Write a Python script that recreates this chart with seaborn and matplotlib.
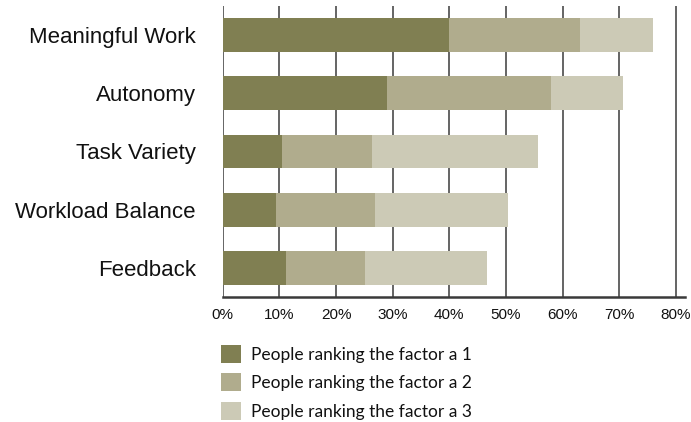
import matplotlib
matplotlib.use('Agg')
import matplotlib.pyplot as plt
import matplotlib.patches as mpatches
import numpy as np
import pandas as pd
import seaborn as sns

factors = ['Meaningful Work', 'Autonomy', 'Task Variety', 'Workload Balance', 'Feedback']
rank1 = [40.0, 29.0, 10.5, 9.4, 11.2]
rank2 = [23.0, 29.0, 15.9, 17.5, 13.9]
rank3 = [13.0, 12.6, 29.3, 23.5, 21.6]
series_labels = ['People ranking the factor a 1',
                 'People ranking the factor a 2',
                 'People ranking the factor a 3']
colors = ['#807f52', '#b0ac8d', '#cccab6']
xticks = [0, 10, 20, 30, 40, 50, 60, 70, 80]

df = pd.DataFrame({'factor': factors, 'r1': rank1, 'r2': rank2, 'r3': rank3})
df['c1'] = df['r1']
df['c2'] = df['r1'] + df['r2']
df['c3'] = df['c2'] + df['r3']

sns.set_style('white')
plt.rcParams['font.family'] = ['Liberation Sans', 'DejaVu Sans']
plt.rcParams['text.color'] = '#111111'
plt.rcParams['xtick.color'] = '#111111'
plt.rcParams['ytick.color'] = '#111111'

fig = plt.figure(figsize=(6.91, 4.22), dpi=100)
ax = fig.add_axes([0.3223, 0.2962, 0.669, 0.6896])

# stacked bars: draw cumulative totals back to front
for col, c in zip(['c3', 'c2', 'c1'], colors[::-1]):
    sns.barplot(data=df, x=col, y='factor', orient='h', color=c,
                width=0.58, linewidth=0, saturation=1, ax=ax, zorder=3)

for t in xticks:
    ax.axvline(t, color='#3a3a3a', lw=1.1, zorder=1)

ax.set_xlim(0, 81.6)
ax.set_ylim(4.5, -0.5)
ax.set_xticks(xticks)
ax.set_xticklabels([f'{t}%' for t in xticks], fontsize=11)
ax.tick_params(axis='x', length=0, pad=8)
ax.tick_params(axis='y', length=0, pad=19.5, labelsize=16)
ax.set_xlabel('')
ax.set_ylabel('')
for s in ['top', 'right', 'left']:
    ax.spines[s].set_visible(False)
ax.spines['bottom'].set_color('#3a3a3a')
ax.spines['bottom'].set_linewidth(1.8)

handles = [mpatches.Patch(facecolor=c, edgecolor='none', label=l)
           for c, l in zip(colors, series_labels)]
fig.legend(handles=handles, loc='upper left', bbox_to_anchor=(0.32, 0.183),
           frameon=False, handlelength=1.15, handleheight=1.2, handletextpad=0.55,
           labelspacing=0.62, borderaxespad=0, borderpad=0,
           prop={'family': 'Lato', 'size': 12.5})

fig.savefig('out.png', dpi=100)
